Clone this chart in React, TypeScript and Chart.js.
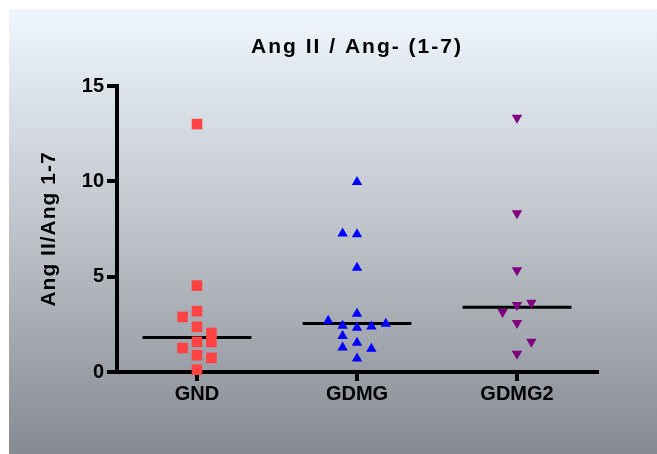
import React, { useEffect, useRef } from 'react';
import { Chart, registerables } from 'chart.js';

Chart.register(...registerables);

// ---- data ----
const categories = ['GND', 'GDMG', 'GDMG2'];

const gndValues = [13.0, 4.53, 3.19, 2.89, 2.37, 2.05, 1.58, 1.58, 1.26, 0.88, 0.74, 0.12];
const gndColumns = [0, 0, 0, -1, 0, 1, 1, 0, -1, 0, 1, 0];

const gdmgValues = [9.97, 7.27, 7.22, 5.47, 3.05, 2.69, 2.53, 2.43, 2.39, 2.32, 1.89, 1.54, 1.29, 1.22, 0.71];
const gdmgColumns = [0, -1, 0, 0, 0, -2, 2, -1, 1, 0, -1, 0, -1, 1, 0];

const gdmg2Values = [13.33, 8.33, 5.34, 3.63, 3.52, 3.15, 2.57, 1.59, 0.96];
const gdmg2Columns = [0, 0, 0, 1, 0, -1, 0, 1, 0];

const medians = [1.81, 2.55, 3.4];

const yTicks = [0, 5, 10, 15];

const chartTitle = 'Ang II / Ang- (1-7)';
const yAxisTitle = 'Ang II/Ang 1-7';

// ---- styling ----
const FONT = "'Liberation Sans', Arial, Helvetica, sans-serif";
const COLUMN_SPACING = 0.09; // category units between jittered columns
const MEDIAN_HALF_WIDTH = 0.34;

const groupValues = [gndValues, gdmgValues, gdmg2Values];
const groupColumns = [gndColumns, gdmgColumns, gdmg2Columns];
const groupColors = ['#FF4242', '#0000FF', '#800080'];
const groupStyles = ['rect', 'triangle', 'triangle'];
const groupRotations = [0, 0, 180];
const groupRadius = [7.5, 6, 6];

const backgroundPlugin = {
  id: 'panelBackground',
  beforeDraw(chart: any) {
    const { ctx, width, height } = chart;
    ctx.save();
    ctx.fillStyle = '#ffffff';
    ctx.fillRect(0, 0, width, height);
    const g = ctx.createLinearGradient(0, 9, 0, height);
    g.addColorStop(0, '#EFF6FE');
    g.addColorStop(0.5, '#BEC3CA');
    g.addColorStop(1, '#868A93');
    ctx.fillStyle = g;
    ctx.fillRect(9, 9, width - 9, height - 9);
    ctx.restore();
  },
};

const titlesPlugin = {
  id: 'titles',
  afterDraw(chart: any) {
    const { ctx, chartArea } = chart;
    ctx.save();
    ctx.fillStyle = '#000000';
    ctx.font = `bold 21px ${FONT}`;
    ctx.textAlign = 'center';
    ctx.textBaseline = 'alphabetic';
    (ctx as any).letterSpacing = '2px';
    ctx.fillText(chartTitle, (chartArea.left + chartArea.right) / 2, 53);
    ctx.restore();

    ctx.save();
    ctx.fillStyle = '#000000';
    ctx.font = `bold 21px ${FONT}`;
    ctx.textAlign = 'center';
    ctx.textBaseline = 'alphabetic';
    (ctx as any).letterSpacing = '1px';
    ctx.translate(55, (chartArea.top + chartArea.bottom) / 2);
    ctx.rotate(-Math.PI / 2);
    ctx.fillText(yAxisTitle, 0, 0);
    ctx.restore();
  },
};

export default function App() {
  const ref = useRef<HTMLCanvasElement>(null);

  useEffect(() => {
    document.body.style.margin = '0';
    document.body.style.overflow = 'hidden';
    const canvas = ref.current;
    if (!canvas) return;

    const pointDatasets = groupValues.map((vals, gi) => ({
      type: 'scatter' as const,
      label: categories[gi],
      data: vals.map((v, i) => ({ x: gi + groupColumns[gi][i] * COLUMN_SPACING, y: v })),
      backgroundColor: groupColors[gi],
      borderColor: groupColors[gi],
      borderWidth: 0,
      pointStyle: groupStyles[gi],
      pointRotation: groupRotations[gi],
      pointRadius: groupRadius[gi],
      showLine: false,
      clip: false as any,
      order: 0,
    }));

    const medianDatasets = medians.map((m, gi) => ({
      type: 'scatter' as const,
      label: `${categories[gi]} median`,
      data: [
        { x: gi - MEDIAN_HALF_WIDTH, y: m },
        { x: gi + MEDIAN_HALF_WIDTH, y: m },
      ],
      showLine: true,
      borderColor: '#000000',
      borderWidth: 3,
      borderCapStyle: 'butt',
      pointRadius: 0,
      order: 1,
    }));

    const tickFont = { family: FONT, size: 20, weight: 'bold' as const };

    const chart = new Chart(canvas, {
      type: 'scatter',
      data: { datasets: [...pointDatasets, ...medianDatasets] as any },
      plugins: [backgroundPlugin, titlesPlugin],
      options: {
        animation: false,
        responsive: false,
        devicePixelRatio: 1,
        events: [],
        layout: { padding: { top: 86, right: 60, bottom: 0, left: 0 } },
        plugins: {
          legend: { display: false },
          tooltip: { enabled: false },
          title: { display: false },
        },
        scales: {
          x: {
            type: 'linear',
            min: -0.5,
            max: 2.5,
            z: 1,
            afterFit: (s: any) => {
              s.height = 82;
            },
            afterBuildTicks: (s: any) => {
              s.ticks = categories.map((_, i) => ({ value: i }));
            },
            border: { display: true, width: 4, color: '#000000' },
            grid: {
              display: true,
              drawOnChartArea: false,
              drawTicks: true,
              tickLength: 9,
              tickWidth: 4,
              tickColor: '#000000',
              color: '#000000',
              lineWidth: 4,
            },
            ticks: {
              callback: (v: any) => categories[Math.round(Number(v))] ?? '',
              font: tickFont,
              color: '#000000',
              padding: 1,
              maxRotation: 0,
              autoSkip: false,
            },
          },
          y: {
            type: 'linear',
            min: 0,
            max: 15,
            z: 1,
            afterFit: (s: any) => {
              s.width = 117;
            },
            afterBuildTicks: (s: any) => {
              s.ticks = yTicks.map((v) => ({ value: v }));
            },
            border: { display: true, width: 4, color: '#000000' },
            grid: {
              display: true,
              drawOnChartArea: false,
              drawTicks: true,
              tickLength: 10,
              tickWidth: 4,
              tickColor: '#000000',
              color: '#000000',
              lineWidth: 4,
            },
            ticks: {
              font: tickFont,
              color: '#000000',
              padding: 3,
            },
          },
        },
      } as any,
    });

    return () => chart.destroy();
  }, []);

  return (
    <canvas
      ref={ref}
      width={657}
      height={454}
      style={{ display: 'block', width: 657, height: 454 }}
    />
  );
}
